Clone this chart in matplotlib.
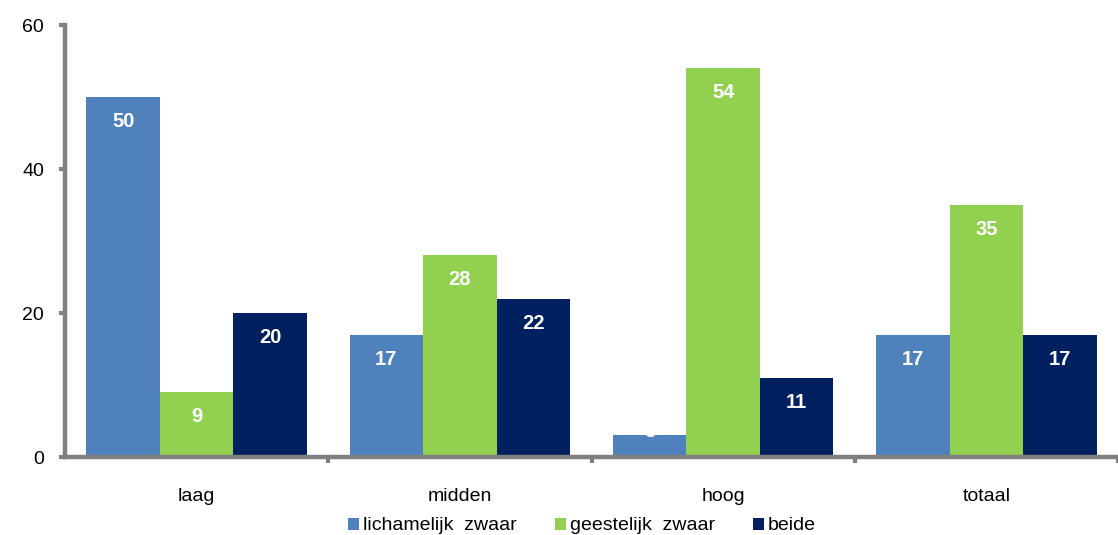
import matplotlib
matplotlib.use("Agg")
import matplotlib.pyplot as plt
import numpy as np

categories = ["laag", "midden", "hoog", "totaal"]
series_names = ["lichamelijk  zwaar", "geestelijk  zwaar", "beide"]
lichamelijk = [50, 17, 3, 17]
geestelijk = [9, 28, 54, 35]
beide = [20, 22, 11, 17]
yticks = [0, 20, 40, 60]

colors = ["#4F81BD", "#92D050", "#002060"]
plt.rcParams["font.family"] = ["Liberation Sans", "DejaVu Sans"]

W, H = 1118, 535
fig = plt.figure(figsize=(W / 100, H / 100), dpi=100)
x0 = 65.0
cat_w = 265.33
left = x0 / W
bottom, top = (H - 457) / H, (H - 25) / H
ax = fig.add_axes([left, bottom, 1.0 - left, top - bottom])

x = np.arange(len(categories))
bw = 0.279
data = [lichamelijk, geestelijk, beide]
handles = []
for j, (vals, c, name) in enumerate(zip(data, colors, series_names)):
    pos = x + (j - 1) * bw
    b = ax.bar(pos, vals, width=bw, color=c, label=name, zorder=1)
    handles.append(b)
    for px, v in zip(pos, vals):
        ly = v - 3.4 if v > 6 else v + 0.5
        ax.text(px, ly, str(v), ha="center", va="center", color="white",
                fontsize=14.5, fontweight="bold", zorder=3)

ax.set_ylim(0, 60)
ax.set_xlim(-0.5, -0.5 + (W - x0) / cat_w)
ax.set_yticks(yticks)
ax.set_yticklabels([str(t) for t in yticks], fontsize=14)
ax.set_xticks(x)
ax.set_xticklabels(categories, fontsize=14)
ax.tick_params(axis="x", which="major", length=0, pad=22)
ax.set_xticks(np.arange(len(categories)) + 0.5, minor=True)
ax.tick_params(axis="x", which="minor", length=4, width=3, color="#808080", direction="out")
ax.tick_params(axis="y", length=4, width=3, color="#808080", pad=11)

for s in ["top", "right"]:
    ax.spines[s].set_visible(False)
for s in ["left", "bottom"]:
    ax.spines[s].set_color("#808080")
    ax.spines[s].set_linewidth(3.2)

fig.legend(handles=handles, labels=series_names, loc="center",
           bbox_to_anchor=(582 / W, 9 / H), ncol=3, frameon=False,
           fontsize=14, handlelength=0.57, handleheight=0.57,
           handletextpad=0.2, columnspacing=1.95, borderpad=0)

fig.savefig("out.png", dpi=100)
